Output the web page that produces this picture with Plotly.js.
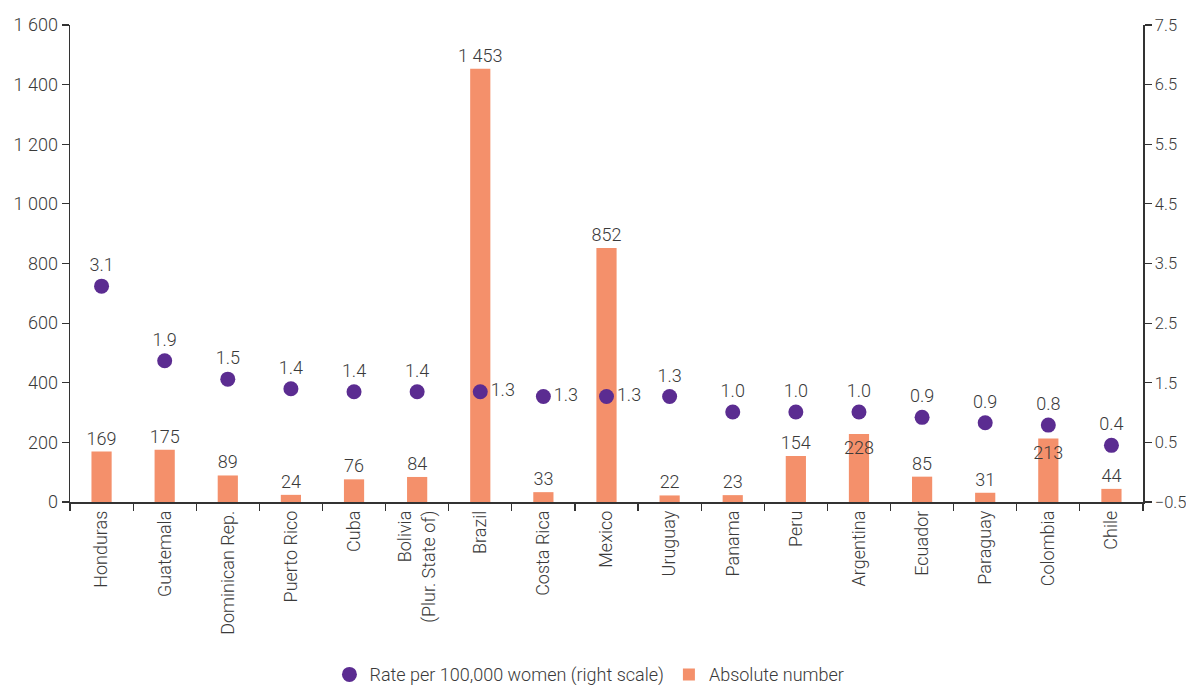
<!DOCTYPE html>
<html>
<head>
<meta charset="utf-8">
<script src="https://cdn.plot.ly/plotly-3.0.1.min.js"></script>
<style>html,body{margin:0;padding:0;background:#fff;}#chart{width:1186px;height:685px;}</style>
</head>
<body>
<div id="chart"></div>
<script>
const countries = ["Honduras","Guatemala","Dominican Rep.","Puerto Rico","Cuba","Bolivia<br>(Plur. State of)","Brazil","Costa Rica","Mexico","Uruguay","Panama","Peru","Argentina","Ecuador","Paraguay","Colombia","Chile"];
const absoluteNumber = [169,175,89,24,76,84,1453,33,852,22,23,154,228,85,31,213,44];
const ratePer100k = [3.12,1.87,1.56,1.40,1.35,1.35,1.35,1.27,1.27,1.27,1.01,1.01,1.01,0.92,0.83,0.79,0.45];
const rateLabels = ["3.1","1.9","1.5","1.4","1.4","1.4","1.3","1.3","1.3","1.3","1.0","1.0","1.0","0.9","0.9","0.8","0.4"];
const leftTicks = [0,200,400,600,800,1000,1200,1400,1600];
const rightTicks = [-0.5,0.5,1.5,2.5,3.5,4.5,5.5,6.5,7.5];

const FONT = "Roboto, 'Liberation Sans Narrow', sans-serif";
const TXT = '#3a3a3a';
const FS = 18;

const barPos = absoluteNumber.map((v,i)=> (i===12||i===15) ? 'inside' : 'outside');
const ratePos = ratePer100k.map((v,i)=> (i===6||i===7||i===8) ? 'middle right' : 'top center');

const tf = {family:FONT,size:FS,color:TXT,weight:300};

const bars = {
  type:'bar', name:'Absolute number', x:countries, y:absoluteNumber,
  marker:{color:'#F4906B'}, width:0.32,
  texttemplate:'%{y:,}', textposition:barPos, textangle:0,
  insidetextanchor:'end', constraintext:'none', cliponaxis:false,
  textfont:tf, insidetextfont:tf, outsidetextfont:tf,
  hoverinfo:'skip'
};
const rates = {
  type:'scatter', mode:'markers+text', name:'Rate per 100,000 women (right scale)',
  x:countries, y:ratePer100k, yaxis:'y2',
  marker:{color:'#5B2C91', size:15},
  text:rateLabels, textposition:ratePos, cliponaxis:false,
  textfont:tf,
  hoverinfo:'skip'
};

const layout = {
  width:1186, height:685,
  margin:{l:70, r:43, t:25, b:183},
  paper_bgcolor:'#fff', plot_bgcolor:'#fff',
  separators:'. ',
  font:tf,
  showlegend:true,
  legend:{orientation:'h', x:0.497, xanchor:'center', xref:'container', yref:'container', y:0.015, yanchor:'middle', font:tf, traceorder:'normal'},
  xaxis:{type:'category', range:[-0.5,16.5], tickangle:-90, showline:true, linecolor:'#333', linewidth:1.5,
    ticks:'outside', tickson:'boundaries', ticklen:7, tickcolor:'#333', tickwidth:1.2,
    showgrid:false, zeroline:false, tickfont:tf, automargin:false},
  yaxis:{range:[0,1600], tickvals:leftTicks, tickformat:',d', showline:true, linecolor:'#333', linewidth:1.5,
    ticks:'outside', ticklen:7, tickcolor:'#333', tickwidth:1.2, showgrid:false, zeroline:false,
    tickfont:tf, automargin:false},
  yaxis2:{range:[-0.5,7.5], tickvals:rightTicks, tickformat:'.1f', overlaying:'y', side:'right',
    showline:true, linecolor:'#333', linewidth:1.5, ticks:'outside', ticklen:7, tickcolor:'#333', tickwidth:1.2,
    ticklabelstandoff:0,
    showgrid:false, zeroline:false, tickfont:{family:FONT,size:16.5,color:TXT,weight:300}, automargin:false}
};

Plotly.newPlot('chart', [rates, bars], layout, {displayModeBar:false, staticPlot:true});
</script>
</body>
</html>
